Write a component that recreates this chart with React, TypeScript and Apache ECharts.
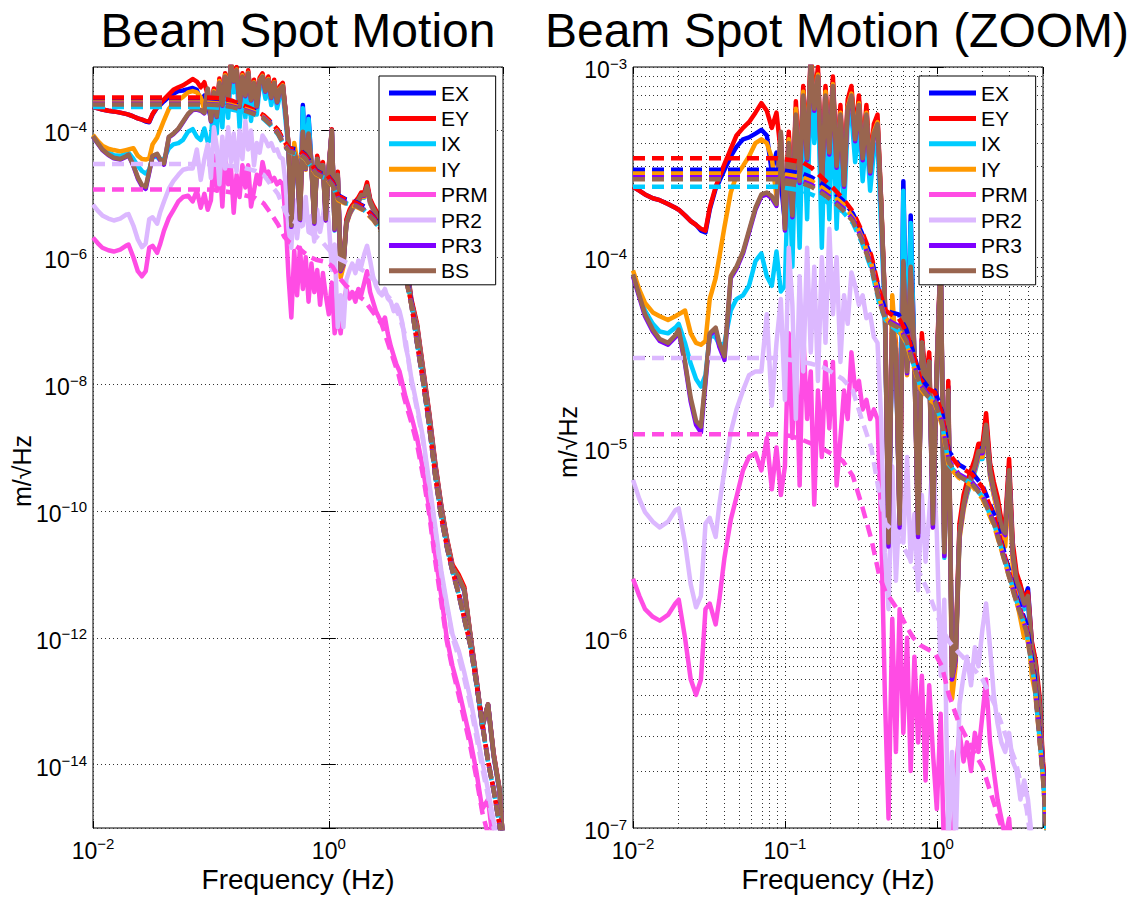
import React, { useEffect, useRef } from 'react';
import * as echarts from 'echarts';

// Frequencies (Hz) of the spectral points
const FREQ = [
  0.010, 0.011, 0.012, 0.0135, 0.015, 0.017, 0.019, 0.020, 0.022, 0.024, 0.026, 0.028, 0.030, 0.032, 0.035, 0.037, 0.040, 0.044, 0.048, 0.053, 0.058, 0.064, 0.070, 0.076, 0.082, 0.088, 0.094,
  0.100, 0.106, 0.112, 0.118, 0.125, 0.132, 0.140, 0.148, 0.156, 0.165, 0.175, 0.185, 0.196, 0.207, 0.219, 0.232, 0.245, 0.259, 0.274, 0.290, 0.307, 0.325, 0.344, 0.364, 0.385, 0.407, 0.430, 0.455, 0.481, 0.509, 0.538, 0.569, 0.602, 0.637, 0.673, 0.712, 0.753, 0.797, 0.843, 0.891, 0.942,
  1.00, 1.06, 1.12, 1.19, 1.26, 1.33, 1.41, 1.50, 1.58, 1.68, 1.78, 1.88, 2.00, 2.11, 2.24, 2.37, 2.51, 2.66, 2.82, 2.99, 3.16, 3.35, 3.55, 3.76, 3.98, 4.22, 4.47, 4.73, 5.00,
  5.6, 6.3, 7.1, 8.0, 9.0, 10, 11.2, 12.6, 14.1, 15.8, 17.8, 20, 22.4, 25, 28, 30,
];

// Amplitude spectral densities, log10(m/√Hz)
const EX_ASD = [
  -3.63,-3.65,-3.67,-3.69,-3.70,-3.72,-3.74,-3.75,-3.78,-3.81,-3.83,-3.86,-3.87,-3.75,-3.64,-3.60,-3.54,-3.47,-3.42,-3.38,-3.37,-3.35,-3.33,-3.36,-3.55,-3.45,-3.60,
  -3.82,-3.36,-3.76,-3.22,-3.57,-3.12,-3.46,-2.95,-3.20,-3.03,-3.60,-3.12,-3.44,-3.08,-3.51,-3.23,-3.60,-3.20,-3.13,-3.37,-3.18,-3.47,-3.23,-3.54,-3.33,-3.28,-3.71,-4.23,-5.48,-4.33,-4.48,-5.38,-3.60,-4.58,-3.78,-4.53,-5.43,-4.43,-4.68,-4.53,-5.38,
  -4.58,-3.99,-5.52,-4.68,-6.18,-6.08,-5.43,-5.28,-5.20,-5.13,-5.08,-5.00,-5.00,-4.86,-5.10,-5.20,-5.28,-5.40,-5.43,-5.10,-5.53,-5.68,-5.73,-5.80,-5.74,-6.03,-6.13,-6.33,-6.68,
  -7.08,-7.78,-8.48,-9.28,-9.94,-10.44,-10.88,-11.03,-11.23,-11.94,-12.64,-13.39,-13.05,-13.84,-14.39,-15.20,
];
const EY_ASD = [
  -3.63,-3.65,-3.67,-3.69,-3.70,-3.72,-3.74,-3.75,-3.78,-3.81,-3.83,-3.85,-3.86,-3.74,-3.63,-3.58,-3.51,-3.43,-3.36,-3.32,-3.29,-3.24,-3.19,-3.23,-3.32,-3.24,-3.45,
  -3.80,-3.34,-3.75,-3.18,-3.55,-3.10,-3.45,-2.92,-3.18,-3.00,-3.58,-3.10,-3.42,-3.05,-3.50,-3.20,-3.58,-3.17,-3.10,-3.35,-3.15,-3.45,-3.20,-3.52,-3.30,-3.25,-3.70,-4.22,-5.45,-4.30,-4.45,-5.35,-4.00,-4.55,-4.00,-4.50,-5.40,-4.40,-4.65,-4.50,-5.35,
  -4.55,-3.98,-5.50,-4.65,-6.15,-6.05,-5.40,-5.25,-5.18,-5.12,-5.06,-4.98,-4.98,-4.82,-5.08,-5.18,-5.26,-5.38,-5.40,-5.06,-5.50,-5.66,-5.72,-5.80,-5.76,-6.02,-6.12,-6.30,-6.65,
  -7.05,-7.75,-8.45,-9.25,-9.92,-10.42,-10.85,-11.00,-11.20,-11.92,-12.62,-13.38,-13.05,-13.82,-14.38,-15.20,
];
const IX_ASD = [
  -4.09,-4.20,-4.28,-4.35,-4.39,-4.40,-4.37,-4.35,-4.45,-4.56,-4.64,-4.68,-4.62,-4.41,-4.42,-4.46,-4.45,-4.28,-4.22,-4.20,-4.15,-4.02,-3.98,-4.10,-4.15,-3.97,-4.18,
  -4.15,-3.45,-4.05,-3.30,-3.95,-3.22,-3.80,-3.10,-3.40,-3.15,-3.95,-3.25,-3.80,-3.20,-3.85,-3.35,-3.75,-3.30,-3.25,-3.50,-3.30,-3.60,-3.35,-3.65,-3.45,-3.40,-3.85,-4.30,-5.45,-4.40,-4.55,-5.35,-3.65,-4.55,-3.82,-4.55,-5.40,-4.45,-4.70,-4.55,-5.35,
  -4.62,-4.02,-5.58,-4.72,-6.22,-6.12,-5.47,-5.32,-5.25,-5.18,-5.13,-5.06,-5.06,-4.92,-5.15,-5.25,-5.33,-5.45,-5.48,-5.16,-5.58,-5.72,-5.78,-5.85,-5.82,-6.08,-6.18,-6.38,-6.72,
  -7.12,-7.82,-8.52,-9.32,-9.97,-10.47,-10.92,-11.07,-11.27,-11.97,-12.67,-13.42,-13.08,-13.87,-14.42,-15.20,
];
const IY_ASD = [
  -4.07,-4.17,-4.24,-4.29,-4.31,-4.33,-4.31,-4.30,-4.28,-4.40,-4.45,-4.46,-4.44,-4.22,-4.11,-4.00,-3.84,-3.66,-3.57,-3.52,-3.47,-3.40,-3.38,-3.40,-3.48,-3.68,-3.35,
  -3.83,-3.38,-3.77,-3.22,-3.58,-3.13,-3.47,-2.96,-3.21,-3.04,-3.61,-3.13,-3.44,-3.09,-3.51,-3.24,-3.61,-3.21,-3.14,-3.37,-3.19,-3.47,-3.24,-3.54,-3.34,-3.29,-3.71,-4.24,-5.52,-4.20,-4.48,-5.42,-4.05,-4.62,-4.08,-4.56,-5.47,-4.46,-4.72,-4.56,-5.42,
  -4.62,-4.03,-5.57,-4.72,-6.32,-6.15,-5.48,-5.33,-5.24,-5.17,-5.12,-5.05,-5.05,-4.92,-5.15,-5.25,-5.34,-5.47,-5.52,-5.18,-5.62,-5.80,-5.90,-6.00,-5.95,-6.20,-6.30,-6.48,-6.72,
  -7.10,-7.80,-8.50,-9.30,-9.95,-10.45,-10.90,-11.05,-11.25,-11.95,-12.65,-13.40,-13.10,-13.85,-14.40,-15.20,
];
const PRM_ASD = [
  -5.69,-5.78,-5.85,-5.89,-5.91,-5.88,-5.82,-5.80,-6.00,-6.22,-6.30,-6.22,-5.85,-5.82,-5.93,-5.80,-5.58,-5.38,-5.26,-5.12,-5.05,-5.03,-5.12,-4.95,-5.22,-5.00,-5.25,
  -5.10,-4.40,-4.95,-4.45,-5.20,-4.40,-4.85,-4.60,-5.30,-4.70,-5.05,-4.55,-4.90,-4.55,-5.20,-4.95,-4.70,-4.85,-4.50,-4.70,-4.65,-4.80,-4.75,-4.85,-4.80,-4.85,-5.40,-6.30,-6.95,-5.90,-6.60,-5.85,-6.50,-6.00,-6.70,-6.10,-6.55,-6.20,-6.75,-6.25,-6.60,
  -6.90,-6.40,-7.20,-6.90,-7.20,-6.70,-6.50,-6.65,-6.55,-6.70,-6.50,-6.60,-6.40,-6.22,-6.55,-6.70,-6.85,-6.95,-7.05,-6.95,-7.20,-7.40,-7.55,-7.70,-7.80,-8.00,-8.20,-8.35,-8.50,
  -8.85,-9.35,-9.95,-10.70,-11.35,-12.00,-12.45,-12.80,-13.20,-13.60,-14.10,-14.70,-14.55,-15.30,-15.50,-15.50,
];
const PR2_ASD = [
  -5.17,-5.27,-5.34,-5.39,-5.42,-5.39,-5.33,-5.32,-5.50,-5.72,-5.84,-5.78,-5.40,-5.37,-5.47,-5.30,-5.12,-4.92,-4.80,-4.70,-4.62,-4.60,-4.60,-4.30,-4.78,-4.45,-4.22,
  -4.75,-3.95,-4.25,-4.85,-4.10,-4.60,-3.95,-4.50,-4.05,-4.65,-4.00,-4.45,-3.85,-4.30,-4.00,-4.55,-4.20,-4.35,-4.08,-4.15,-4.25,-4.20,-4.32,-4.30,-4.42,-4.45,-4.85,-5.55,-5.85,-5.10,-5.70,-5.30,-5.50,-5.05,-5.60,-5.35,-5.75,-5.25,-5.60,-5.35,-5.05,
  -5.45,-6.20,-5.80,-7.10,-6.60,-7.10,-6.35,-6.20,-6.10,-6.25,-6.05,-6.15,-5.95,-5.82,-6.05,-6.30,-6.45,-6.55,-6.60,-6.50,-6.65,-6.70,-6.85,-6.75,-6.85,-7.05,-7.40,-7.60,-7.90,
  -8.35,-8.85,-9.55,-10.25,-10.95,-11.45,-11.95,-12.20,-12.55,-12.95,-13.45,-13.95,-14.40,-14.90,-15.30,-15.50,
];
const PR3_ASD = [
  -4.10,-4.21,-4.31,-4.39,-4.44,-4.46,-4.42,-4.39,-4.56,-4.76,-4.88,-4.92,-4.66,-4.41,-4.38,-4.47,-4.54,-4.11,-4.06,-3.98,-3.87,-3.75,-3.68,-3.67,-3.69,-3.73,-3.35,
  -3.86,-3.41,-3.79,-3.26,-3.61,-3.16,-3.49,-2.99,-3.23,-3.06,-3.63,-3.16,-3.46,-3.11,-3.53,-3.26,-3.63,-3.23,-3.16,-3.39,-3.21,-3.49,-3.26,-3.56,-3.36,-3.31,-3.73,-4.26,-5.52,-4.36,-4.51,-5.42,-4.03,-4.61,-4.06,-4.56,-5.47,-4.46,-4.71,-4.56,-5.42,
  -4.61,-4.01,-5.57,-4.71,-6.22,-6.12,-5.46,-5.31,-5.23,-5.16,-5.11,-5.03,-5.03,-4.89,-5.13,-5.23,-5.31,-5.43,-5.46,-5.13,-5.56,-5.71,-5.76,-5.83,-5.79,-6.06,-6.16,-6.36,-6.71,
  -7.11,-7.81,-8.51,-9.31,-9.96,-10.46,-10.91,-11.06,-11.26,-11.96,-12.66,-13.41,-13.06,-13.86,-14.41,-15.20,
];
const BS_ASD = [
  -4.09,-4.20,-4.30,-4.38,-4.43,-4.45,-4.41,-4.38,-4.55,-4.74,-4.86,-4.89,-4.64,-4.40,-4.37,-4.45,-4.52,-4.10,-4.05,-3.97,-3.86,-3.74,-3.67,-3.66,-3.68,-3.72,-3.34,
  -3.85,-3.40,-3.78,-3.25,-3.60,-3.15,-3.48,-2.98,-3.22,-3.05,-3.62,-3.15,-3.45,-3.10,-3.52,-3.25,-3.62,-3.22,-3.15,-3.38,-3.20,-3.48,-3.25,-3.55,-3.35,-3.30,-3.72,-4.25,-5.50,-4.35,-4.50,-5.40,-4.02,-4.60,-4.05,-4.55,-5.45,-4.45,-4.70,-4.55,-5.40,
  -4.60,-4.00,-5.55,-4.70,-6.20,-6.10,-5.45,-5.30,-5.22,-5.15,-5.10,-5.02,-5.02,-4.88,-5.12,-5.22,-5.30,-5.42,-5.45,-5.12,-5.55,-5.70,-5.75,-5.82,-5.78,-6.05,-6.15,-6.35,-6.70,
  -7.10,-7.80,-8.50,-9.30,-9.95,-10.45,-10.90,-11.05,-11.25,-11.95,-12.65,-13.40,-13.05,-13.85,-14.40,-15.20,
];

// Frequencies (Hz) of the cumulative RMS (dashed) curves
const FREQ_RMS = [
  0.01, 0.03, 0.06, 0.09, 0.11, 0.13, 0.15, 0.18, 0.21, 0.24, 0.28, 0.32, 0.37, 0.42, 0.46, 0.5, 0.56, 0.63, 0.7, 0.78, 0.87, 0.97,
  1.08, 1.2, 1.4, 1.7, 2.0, 2.4, 2.8, 3.3, 3.9, 4.4, 5.0, 5.6, 6.3, 7.1, 8.0, 9.0, 10, 11.2, 12.6, 14.1, 15.8, 17.8, 20, 22.4, 25, 28, 30,
];
const EX_RMS = [-3.54,-3.54,-3.54,-3.54,-3.55,-3.56,-3.58,-3.62,-3.66,-3.70,-3.77,-3.87,-4.00,-4.19,-4.28,-4.29,-4.30,-4.38,-4.50,-4.63,-4.68,-4.70,-4.81,-5.02,-5.09,-5.13,-5.20,-5.36,-5.56,-5.77,-5.93,-6.20,-6.70,-7.33,-7.93,-8.63,-9.43,-10.08,-10.53,-10.93,-11.28,-11.68,-12.08,-12.68,-13.33,-13.93,-14.38,-14.93,-15.30];
const EY_RMS = [-3.48,-3.48,-3.48,-3.48,-3.49,-3.50,-3.53,-3.59,-3.64,-3.69,-3.76,-3.86,-3.99,-4.18,-4.28,-4.30,-4.32,-4.39,-4.51,-4.64,-4.69,-4.71,-4.82,-5.03,-5.10,-5.14,-5.21,-5.37,-5.57,-5.78,-5.95,-6.22,-6.72,-7.35,-7.95,-8.65,-9.45,-10.10,-10.55,-10.95,-11.30,-11.70,-12.10,-12.70,-13.35,-13.95,-14.40,-14.95,-15.30];
const IX_RMS = [-3.63,-3.63,-3.63,-3.63,-3.64,-3.65,-3.67,-3.70,-3.73,-3.76,-3.82,-3.92,-4.06,-4.25,-4.33,-4.36,-4.39,-4.45,-4.56,-4.68,-4.73,-4.76,-4.87,-5.09,-5.15,-5.19,-5.26,-5.41,-5.59,-5.79,-5.97,-6.24,-6.73,-7.36,-7.96,-8.66,-9.46,-10.11,-10.56,-10.96,-11.31,-11.71,-12.11,-12.71,-13.36,-13.96,-14.41,-14.96,-15.30];
const IY_RMS = [-3.56,-3.56,-3.56,-3.56,-3.57,-3.58,-3.60,-3.64,-3.68,-3.72,-3.79,-3.89,-4.03,-4.22,-4.32,-4.35,-4.38,-4.45,-4.57,-4.69,-4.74,-4.77,-4.88,-5.10,-5.16,-5.20,-5.27,-5.42,-5.60,-5.80,-5.98,-6.25,-6.74,-7.34,-7.94,-8.64,-9.44,-10.09,-10.54,-10.94,-11.29,-11.69,-12.09,-12.69,-13.34,-13.94,-14.39,-14.94,-15.30];
const PRM_RMS = [-4.93,-4.93,-4.93,-4.93,-4.94,-4.96,-4.98,-5.01,-5.04,-5.07,-5.15,-5.30,-5.48,-5.68,-5.76,-5.80,-5.86,-5.94,-6.00,-6.04,-6.06,-6.08,-6.15,-6.30,-6.45,-6.58,-6.68,-6.88,-7.05,-7.45,-7.85,-8.25,-8.60,-8.95,-9.45,-10.05,-10.80,-11.45,-12.05,-12.50,-12.90,-13.30,-13.70,-14.20,-14.75,-15.10,-15.50,-15.60,-15.60];
const PR2_RMS = [-4.53,-4.53,-4.53,-4.53,-4.54,-4.55,-4.56,-4.58,-4.61,-4.64,-4.70,-4.85,-5.00,-5.25,-5.40,-5.43,-5.48,-5.55,-5.62,-5.67,-5.75,-5.85,-5.95,-6.02,-6.08,-6.15,-6.22,-6.35,-6.50,-6.65,-6.90,-7.20,-7.95,-8.40,-8.90,-9.60,-10.30,-11.00,-11.50,-12.00,-12.30,-12.65,-13.05,-13.55,-14.05,-14.50,-15.00,-15.40,-15.50];
const PR3_RMS = [-3.58,-3.58,-3.58,-3.58,-3.59,-3.60,-3.62,-3.66,-3.70,-3.74,-3.80,-3.90,-4.04,-4.23,-4.32,-4.34,-4.36,-4.43,-4.55,-4.67,-4.72,-4.75,-4.86,-5.07,-5.14,-5.18,-5.25,-5.40,-5.59,-5.79,-5.96,-6.23,-6.73,-7.36,-7.96,-8.66,-9.46,-10.11,-10.56,-10.96,-11.31,-11.71,-12.11,-12.71,-13.36,-13.96,-14.41,-14.96,-15.30];
const BS_RMS = [-3.59,-3.59,-3.59,-3.59,-3.60,-3.61,-3.63,-3.67,-3.71,-3.75,-3.81,-3.91,-4.05,-4.24,-4.33,-4.35,-4.37,-4.44,-4.56,-4.68,-4.73,-4.76,-4.87,-5.08,-5.15,-5.19,-5.26,-5.41,-5.60,-5.80,-5.97,-6.24,-6.74,-7.36,-7.96,-8.66,-9.46,-10.11,-10.56,-10.96,-11.31,-11.71,-12.11,-12.71,-13.36,-13.96,-14.41,-14.96,-15.30];

const NAMES = ['EX', 'EY', 'IX', 'IY', 'PRM', 'PR2', 'PR3', 'BS'];
const COLORS = ['#0000ff', '#ff0000', '#00ccff', '#ff9900', '#ff4ce4', '#dcb8ff', '#7f00ff', '#99654f'];
const ASD = [EX_ASD, EY_ASD, IX_ASD, IY_ASD, PRM_ASD, PR2_ASD, PR3_ASD, BS_ASD];
const RMS = [EX_RMS, EY_RMS, IX_RMS, IY_RMS, PRM_RMS, PR2_RMS, PR3_RMS, BS_RMS];

const FONT = '"Liberation Sans", Arial, Helvetica, sans-serif';

function pairs(fs: number[], vs: number[]) {
  const n = Math.min(fs.length, vs.length);
  const out: number[][] = [];
  for (let i = 0; i < n; i++) out.push([Math.log10(fs[i]), vs[i]]);
  return out;
}

const powLabel = (step: number) => (v: number) => {
  const r = Math.round(v);
  if (Math.abs(v - r) > 1e-6 || r % step !== 0) return '';
  const e = r < 0 ? '\u2212' + (-r) : String(r);
  return `{b|10}{s|${e}}`;
};

const RICH = {
  b: { fontSize: 23, fontFamily: FONT, color: '#000', lineHeight: 23, padding: [6, 0, 0, 0] },
  s: { fontSize: 15, fontFamily: FONT, color: '#000', lineHeight: 15, verticalAlign: 'top' },
};

const GRID_LINE = { color: '#333', width: 1, type: [1, 3] };

function makeXAxis(grid: number, max: number, step: number, pos: 'bottom' | 'top') {
  return {
    type: 'value', gridIndex: grid, min: -2, max, minInterval: step, maxInterval: step, position: pos,
    axisLine: { show: false },
    axisTick: { show: true, inside: true, length: 7, lineStyle: { color: '#000', width: 1 } },
    axisLabel: pos === 'bottom'
      ? { show: true, formatter: powLabel(step), rich: RICH, margin: 8 }
      : { show: false },
    splitLine: { show: pos === 'bottom', lineStyle: GRID_LINE },
  };
}
function makeYAxis(grid: number, min: number, step: number, pos: 'left' | 'right') {
  return {
    type: 'value', gridIndex: grid, min, max: -3, minInterval: step, maxInterval: step, position: pos,
    axisLine: { show: false },
    axisTick: { show: true, inside: true, length: 7, lineStyle: { color: '#000', width: 1 } },
    axisLabel: pos === 'left'
      ? { show: true, formatter: powLabel(step), rich: RICH, margin: 6 }
      : { show: false },
    splitLine: { show: pos === 'left', lineStyle: GRID_LINE },
  };
}

export default function App() {
  const ref = useRef<HTMLDivElement>(null);
  useEffect(() => {
    if (!ref.current) return;
    const chart = echarts.init(ref.current, undefined, { renderer: 'svg' });

    const minorX: number[] = [];
    for (let n = -2; n <= 0; n++) for (let k = 2; k <= 9; k++) {
      const v = n + Math.log10(k);
      if (v < Math.log10(5) - 1e-6) minorX.push(v);
    }
    const minorY: number[] = [];
    for (let n = -7; n <= -4; n++) for (let k = 2; k <= 9; k++) minorY.push(n + Math.log10(k));

    const series: any[] = [];
    series.push({
      type: 'line', name: 'minor grid', xAxisIndex: 1, yAxisIndex: 1, data: [], silent: true, z: 1,
      markLine: {
        silent: true, symbol: ['none', 'none'], z: 1, animation: false,
        label: { show: false },
        lineStyle: GRID_LINE,
        emphasis: { disabled: true },
        data: [...minorX.map((v) => ({ xAxis: v })), ...minorY.map((v) => ({ yAxis: v }))],
      },
    });
    for (const g of [0, 1]) {
      NAMES.forEach((name, i) => {
        series.push({
          type: 'line', name, xAxisIndex: g, yAxisIndex: g, data: pairs(FREQ, ASD[i]),
          showSymbol: false, symbol: 'none', clip: true, silent: true, z: 2,
          color: COLORS[i], itemStyle: { color: COLORS[i] },
          lineStyle: { width: 4.5, color: COLORS[i], join: 'round' },
          emphasis: { disabled: true },
        });
      });
      NAMES.forEach((name, i) => {
        series.push({
          type: 'line', name: name + ' rms', xAxisIndex: g, yAxisIndex: g, data: pairs(FREQ_RMS, RMS[i]),
          showSymbol: false, symbol: 'none', clip: true, silent: true, z: 3,
          color: COLORS[i], itemStyle: { color: COLORS[i] },
          lineStyle: { width: 4.5, color: COLORS[i], type: [12, 7], cap: 'butt' },
          emphasis: { disabled: true },
        });
      });
    }

    const legendBase = {
      data: NAMES, orient: 'vertical', top: 76, icon: 'rect', itemWidth: 47, itemHeight: 5, itemGap: 3.4,
      padding: [6, 8, 3, 10], backgroundColor: '#fff', borderColor: '#000', borderWidth: 1, borderRadius: 0,
      selectedMode: false,
      itemStyle: { borderWidth: 0 },
      textStyle: { fontSize: 21, fontFamily: FONT, color: '#000', lineHeight: 22 },
    };

    const txt = (text: string, x: number, y: number, fontSize: number, rotation = 0) => ({
      type: 'text', x, y, rotation, silent: true,
      style: { text, fontSize, fontFamily: FONT, fill: '#000', align: 'center', verticalAlign: 'middle' },
    });

    chart.setOption({
      animation: false,
      backgroundColor: '#fff',
      textStyle: { fontFamily: FONT },
      grid: [
        { left: 93, top: 67, width: 410, height: 761, show: true, borderColor: '#000', borderWidth: 1, backgroundColor: 'transparent' },
        { left: 633, top: 67, width: 410, height: 761, show: true, borderColor: '#000', borderWidth: 1, backgroundColor: 'transparent' },
      ],
      xAxis: [
        makeXAxis(0, Math.log10(30), 2, 'bottom'),
        makeXAxis(1, Math.log10(5), 1, 'bottom'),
        makeXAxis(0, Math.log10(30), 2, 'top'),
        makeXAxis(1, Math.log10(5), 1, 'top'),
      ],
      yAxis: [
        makeYAxis(0, -15, 2, 'left'),
        makeYAxis(1, -7, 1, 'left'),
        makeYAxis(0, -15, 2, 'right'),
        makeYAxis(1, -7, 1, 'right'),
      ],
      legend: [
        { ...legendBase, left: 379 },
        { ...legendBase, left: 919 },
      ],
      graphic: [
        txt('Beam Spot Motion', 298, 30, 48),
        txt('Beam Spot Motion (ZOOM)', 837, 30, 48),
        txt('Frequency (Hz)', 298, 879, 28),
        txt('Frequency (Hz)', 838, 879, 28),
        txt('m/\u221AHz', 22, 471, 25, Math.PI / 2),
        txt('m/\u221AHz', 568, 442, 25, Math.PI / 2),
      ],
      series,
    });
    return () => chart.dispose();
  }, []);
  return <div ref={ref} style={{ position: 'fixed', left: 0, top: 0, width: 1145, height: 899 }} />;
}
